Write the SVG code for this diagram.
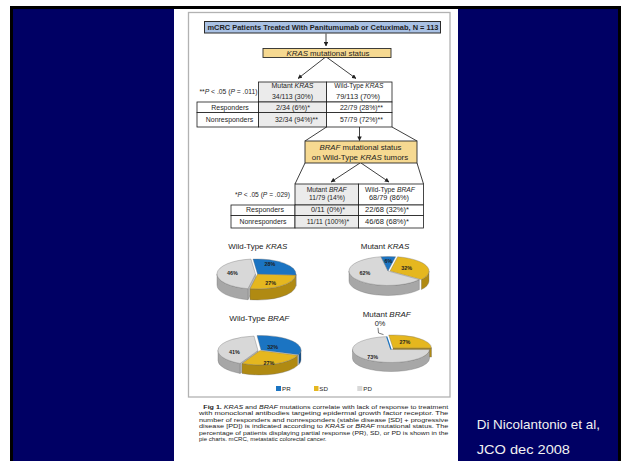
<svg xmlns="http://www.w3.org/2000/svg" width="621" height="461" viewBox="0 0 621 461">
<style>
text{font-family:"Liberation Sans",Arial,sans-serif;fill:#1e1e1e}
.tc{text-anchor:middle}
.tb{font-size:6.3px}
.hd{font-size:7.4px;fill:#1a1a1a}
.pl{font-size:5.4px;font-weight:bold;text-anchor:middle}
.cap{font-size:5.9px;fill:#222}
.cell{stroke:#1a1a1a;stroke-width:0.8}
.mut{fill:#ebebeb}
.wt{fill:#ffffff}
.ln{stroke:#2a2a2a;stroke-width:0.9;fill:none}
.bt{fill:#1b74c2}.bs{fill:#0f4d88}
.yt{fill:#e5b71f}.ys{fill:#b08a12}
.gt{fill:#d8d8d8}.gs{fill:#a7a7a7}.gc{fill:#bdbdbd}
.pie path{stroke:#6a6a6a;stroke-width:0.35}
</style>
<defs>
<marker id="ah" viewBox="0 0 6 6" refX="5.5" refY="3" markerWidth="4.5" markerHeight="4.5" orient="auto" markerUnits="userSpaceOnUse"><path d="M0,0 L6,3 L0,6 z" fill="#222"/></marker>
</defs>
<rect x="0" y="0" width="621" height="461" fill="#ffffff"/>
<rect x="10" y="6" width="611" height="455" fill="#000000"/>
<rect x="13" y="9" width="605" height="452" fill="#000064"/>
<rect x="174" y="9" width="284" height="452" fill="#ffffff"/>
<rect id="frame" x="188.5" y="12.5" width="261.5" height="384.5" fill="#ffffff" stroke="#b2b2b2" stroke-width="1.3"/>

<g id="connectors">
<line class="ln" x1="326" y1="33.5" x2="326" y2="46" marker-end="url(#ah)"/>
<line class="ln" x1="325" y1="57.5" x2="298" y2="78.5" marker-end="url(#ah)"/>
<line class="ln" x1="327" y1="57.5" x2="356" y2="78.5" marker-end="url(#ah)"/>
<line class="ln" x1="326.5" y1="127" x2="305" y2="141"/>
<line class="ln" x1="392" y1="127" x2="417" y2="141"/>
<line class="ln" x1="359.5" y1="127" x2="359.5" y2="140.5" marker-end="url(#ah)"/>
<line class="ln" x1="305" y1="163" x2="295" y2="184"/>
<line class="ln" x1="417" y1="163" x2="423.5" y2="184"/>
<line class="ln" x1="360" y1="163" x2="331" y2="182" marker-end="url(#ah)"/>
<line class="ln" x1="361" y1="163" x2="389" y2="182" marker-end="url(#ah)"/>
</g>

<g id="node-mcrc">
<rect x="204.5" y="21.5" width="236" height="11.5" fill="#a9c1e4" stroke="#2b2b2b" stroke-width="1"/>
<text x="323" y="30.2" class="tc" font-size="6.6" font-weight="bold" textLength="231" lengthAdjust="spacingAndGlyphs">mCRC Patients Treated With Panitumumab or Cetuximab, N = 113</text>
</g>

<g id="node-kras-status">
<rect x="263" y="48.5" width="128" height="9" fill="#f6d991" stroke="#2b2b2b" stroke-width="0.9"/>
<text x="328" y="55.7" class="tc" font-size="7" textLength="83" lengthAdjust="spacingAndGlyphs"><tspan font-style="italic">KRAS</tspan> mutational status</text>
</g>

<g id="table-kras">
<rect class="cell mut" x="258.5" y="82" width="68" height="20"/>
<rect class="cell wt" x="326.5" y="82" width="65.5" height="20"/>
<rect class="cell wt" x="197" y="102" width="61.5" height="10.5"/>
<rect class="cell mut" x="258.5" y="102" width="68" height="10.5"/>
<rect class="cell wt" x="326.5" y="102" width="65.5" height="10.5"/>
<rect class="cell wt" x="197" y="112.5" width="61.5" height="14.5"/>
<rect class="cell mut" x="258.5" y="112.5" width="68" height="14.5"/>
<rect class="cell wt" x="326.5" y="112.5" width="65.5" height="14.5"/>
<text x="228.5" y="93.8" class="tc tb" textLength="58" lengthAdjust="spacingAndGlyphs">**<tspan font-style="italic">P</tspan> &lt; .05 (<tspan font-style="italic">P</tspan> = .011)</text>
<text x="292.5" y="88" class="tc tb" textLength="42" lengthAdjust="spacingAndGlyphs">Mutant <tspan font-style="italic">KRAS</tspan></text>
<text x="292.5" y="99.2" class="tc tb" textLength="41" lengthAdjust="spacingAndGlyphs">34/113 (30%)</text>
<text x="358.8" y="88" class="tc tb" textLength="49" lengthAdjust="spacingAndGlyphs">Wild-Type <tspan font-style="italic">KRAS</tspan></text>
<text x="358" y="99.2" class="tc tb" textLength="44" lengthAdjust="spacingAndGlyphs">79/113 (70%)</text>
<text x="230" y="110.3" class="tc tb" textLength="37.5" lengthAdjust="spacingAndGlyphs">Responders</text>
<text x="293" y="110.3" class="tc tb" textLength="34" lengthAdjust="spacingAndGlyphs">2/34 (6%)*</text>
<text x="361.5" y="110.3" class="tc tb" textLength="43" lengthAdjust="spacingAndGlyphs">22/79 (28%)**</text>
<text x="229.5" y="122" class="tc tb" textLength="47.5" lengthAdjust="spacingAndGlyphs">Nonresponders</text>
<text x="296.5" y="122" class="tc tb" textLength="43" lengthAdjust="spacingAndGlyphs">32/34 (94%)**</text>
<text x="361.5" y="122" class="tc tb" textLength="43" lengthAdjust="spacingAndGlyphs">57/79 (72%)**</text>
</g>

<g id="node-braf-status">
<rect x="305" y="141" width="112" height="22" fill="#f6d991" stroke="#2b2b2b" stroke-width="0.9"/>
<text x="360.5" y="150.2" class="tc" font-size="7" textLength="82" lengthAdjust="spacingAndGlyphs"><tspan font-style="italic">BRAF</tspan> mutational status</text>
<text x="360" y="159.6" class="tc" font-size="7" textLength="96.5" lengthAdjust="spacingAndGlyphs">on Wild-Type <tspan font-style="italic">KRAS</tspan> tumors</text>
</g>

<g id="table-braf">
<rect class="cell mut" x="295" y="184" width="63.5" height="21"/>
<rect class="cell wt" x="358.5" y="184" width="65" height="21"/>
<rect class="cell wt" x="231" y="205" width="64" height="10.5"/>
<rect class="cell mut" x="295" y="205" width="63.5" height="10.5"/>
<rect class="cell wt" x="358.5" y="205" width="65" height="10.5"/>
<rect class="cell wt" x="231" y="215.5" width="64" height="12.5"/>
<rect class="cell mut" x="295" y="215.5" width="63.5" height="12.5"/>
<rect class="cell wt" x="358.5" y="215.5" width="65" height="12.5"/>
<text x="262.5" y="196.5" class="tc tb" textLength="55" lengthAdjust="spacingAndGlyphs">*<tspan font-style="italic">P</tspan> &lt; .05 (<tspan font-style="italic">P</tspan> = .029)</text>
<text x="326.7" y="191.5" class="tc tb" textLength="40" lengthAdjust="spacingAndGlyphs">Mutant <tspan font-style="italic">BRAF</tspan></text>
<text x="327" y="200.2" class="tc tb" textLength="36" lengthAdjust="spacingAndGlyphs">11/79 (14%)</text>
<text x="390" y="191.5" class="tc tb" textLength="50" lengthAdjust="spacingAndGlyphs">Wild-Type <tspan font-style="italic">BRAF</tspan></text>
<text x="389" y="200.2" class="tc tb" textLength="40" lengthAdjust="spacingAndGlyphs">68/79 (86%)</text>
<text x="265" y="212.4" class="tc tb" textLength="38" lengthAdjust="spacingAndGlyphs">Responders</text>
<text x="328" y="212.4" class="tc tb" textLength="34" lengthAdjust="spacingAndGlyphs">0/11 (0%)*</text>
<text x="387" y="212.4" class="tc tb" textLength="44" lengthAdjust="spacingAndGlyphs">22/68 (32%)*</text>
<text x="263" y="224" class="tc tb" textLength="47" lengthAdjust="spacingAndGlyphs">Nonresponders</text>
<text x="328" y="224" class="tc tb" textLength="42.5" lengthAdjust="spacingAndGlyphs">11/11 (100%)*</text>
<text x="387" y="224" class="tc tb" textLength="44" lengthAdjust="spacingAndGlyphs">46/68 (68%)*</text>
</g>

<g id="pie-wt-kras" class="pie">
<text x="257.8" y="249" class="tc hd" textLength="59" lengthAdjust="spacingAndGlyphs">Wild-Type <tspan font-style="italic">KRAS</tspan></text>
<path class="gc" d="M255.5,274 L247.96,288.71 L247.96,299.71 L255.5,285 Z"/>
<path class="gs" d="M247.96,288.71 A38.5,15 0 0 1 217,274 L217,285 A38.5,15 0 0 0 247.96,299.71 Z"/>
<path class="gt" d="M255.5,274 L247.96,288.71 A38.5,15 0 0 1 251.01,259.10 Z"/>
<path class="bs" d="M296,274 A38.5,15 0 0 1 295.90,275.07 L295.90,286.07 A38.5,15 0 0 0 296,285 Z"/>
<path class="ys" d="M295.90,275.07 A38.5,15 0 0 1 249.96,288.71 L249.96,299.71 A38.5,15 0 0 0 295.90,286.07 Z"/>
<path class="yt" d="M257.5,274 L295.90,275.07 A38.5,15 0 0 1 249.96,288.71 Z"/>
<path class="bt" d="M257.5,274 L253.01,259.10 A38.5,15 0 0 1 295.90,275.07 Z"/>
<text x="270" y="266.3" class="pl">28%</text>
<text x="270.7" y="284.7" class="pl">27%</text>
<text x="232.3" y="275.3" class="pl">46%</text>
</g>

<g id="pie-mut-kras" class="pie">
<text x="385" y="249" class="tc hd" textLength="48.5" lengthAdjust="spacingAndGlyphs">Mutant <tspan font-style="italic">KRAS</tspan></text>
<path class="gs" d="M419.35,279.62 A39,14.5 0 0 1 349,271 L349,281 A39,14.5 0 0 0 419.35,289.62 Z"/>
<path class="gt" d="M388,271 L419.35,279.62 A39,14.5 0 1 1 381.03,256.73 Z"/>
<path class="bt" d="M388,271 L381.03,256.73 A39,14.5 0 0 1 395.64,256.78 Z"/>
<path class="ys" d="M429,271 A39,14.5 0 0 1 421.35,279.62 L421.35,289.62 A39,14.5 0 0 0 429,281 Z"/>
<path class="yt" d="M390,271 L397.64,256.78 A39,14.5 0 0 1 421.35,279.62 Z"/>
<text x="388.3" y="263" class="pl">6%</text>
<text x="406.7" y="269.7" class="pl">32%</text>
<text x="365" y="275.3" class="pl">62%</text>
</g>

<g id="pie-wt-braf" class="pie">
<text x="259.3" y="321.3" class="tc hd" textLength="60" lengthAdjust="spacingAndGlyphs">Wild-Type <tspan font-style="italic">BRAF</tspan></text>
<path class="gc" d="M258,350.5 L240.03,363.45 L240.03,373.45 L258,360.5 Z"/>
<path class="gs" d="M240.03,363.45 A40,14.5 0 0 1 218,350.5 L218,360.5 A40,14.5 0 0 0 240.03,373.45 Z"/>
<path class="gt" d="M258,350.5 L240.03,363.45 A40,14.5 0 0 1 254.03,336.07 Z"/>
<path class="ys" d="M297.70,355.34 A40,14.5 0 0 1 242.03,363.45 L242.03,373.45 A40,14.5 0 0 0 297.70,365.34 Z"/>
<path class="yt" d="M260,350.5 L297.70,355.34 A40,14.5 0 0 1 242.03,363.45 Z"/>
<path class="bs" d="M301,350 A40,14.5 0 0 1 298.70,354.84 L298.70,364.84 A40,14.5 0 0 0 301,360 Z"/>
<path class="bt" d="M261,350 L257.03,335.57 A40,14.5 0 0 1 298.70,354.84 Z"/>
<text x="272.7" y="348.7" class="pl">32%</text>
<text x="269" y="365.3" class="pl">27%</text>
<text x="234.3" y="353.7" class="pl">41%</text>
</g>

<g id="pie-mut-braf" class="pie">
<text x="386.7" y="317" class="tc hd" textLength="48" lengthAdjust="spacingAndGlyphs">Mutant <tspan font-style="italic">BRAF</tspan></text>
<text x="380" y="326" class="tc hd" font-size="6.5">0%</text>
<polyline points="378,327.8 378.5,333 383.5,334.6" fill="none" stroke="#222" stroke-width="0.6"/>
<path class="ys" d="M393,348 L431.5,348.05 L431.5,357.05 L393,357 Z"/>
<path class="gs" d="M429.5,349.55 A38.5,13 0 0 1 352.5,349.5 L352.5,358.5 A38.5,13 0 0 0 429.5,358.55 Z"/>
<path class="gt" d="M391,349.5 L429.5,349.55 A38.5,13 0 1 1 386.71,336.58 Z"/>
<line x1="386.71" y1="336.58" x2="391" y2="349.5" stroke="#1b74c2" stroke-width="1.2"/>
<path class="yt" d="M393,348 L388.71,335.08 A38.5,13 0 0 1 431.5,348.05 Z"/>
<text x="405" y="343.7" class="pl">27%</text>
<text x="372.7" y="358.7" class="pl">73%</text>
</g>

<g id="legend">
<rect class="bt" x="276" y="386" width="5" height="5"/>
<text x="282" y="391" font-size="6.2">PR</text>
<rect class="yt" x="314" y="386" width="4.5" height="5"/>
<text x="319.3" y="391" font-size="6.2">SD</text>
<rect class="gt" x="357.3" y="386" width="5" height="5"/>
<text x="363.3" y="391" font-size="6.2">PD</text>
</g>

<g id="caption">
<text class="cap" x="203.3" y="408.7" textLength="245" lengthAdjust="spacingAndGlyphs"><tspan font-weight="bold">Fig 1.</tspan> <tspan font-style="italic">KRAS</tspan> and <tspan font-style="italic">BRAF</tspan> mutations correlate with lack of response to treatment</text>
<text class="cap" x="199" y="415.3" textLength="249.3" lengthAdjust="spacingAndGlyphs">with monoclonal antibodies targeting epidermal growth factor receptor. The</text>
<text class="cap" x="199" y="421.8" textLength="249.3" lengthAdjust="spacingAndGlyphs">number of responders and nonresponders (stable disease [SD] + progressive</text>
<text class="cap" x="199" y="428.3" textLength="249.3" lengthAdjust="spacingAndGlyphs">disease [PD]) is indicated according to <tspan font-style="italic">KRAS</tspan> or <tspan font-style="italic">BRAF</tspan> mutational status. The</text>
<text class="cap" x="199" y="434.8" textLength="249.3" lengthAdjust="spacingAndGlyphs">percentage of patients displaying partial response (PR), SD, or PD is shown in the</text>
<text class="cap" x="199" y="441.3" textLength="127.5" lengthAdjust="spacingAndGlyphs">pie charts. mCRC, metastatic colorectal cancer.</text>
</g>

<g id="citation">
<text x="476.7" y="429" font-size="13" style="fill:#f2f2f2" textLength="123.3" lengthAdjust="spacingAndGlyphs">Di Nicolantonio et al,</text>
<text x="476.7" y="453.5" font-size="13" style="fill:#f2f2f2" textLength="93.3" lengthAdjust="spacingAndGlyphs">JCO dec 2008</text>
</g>
</svg>
